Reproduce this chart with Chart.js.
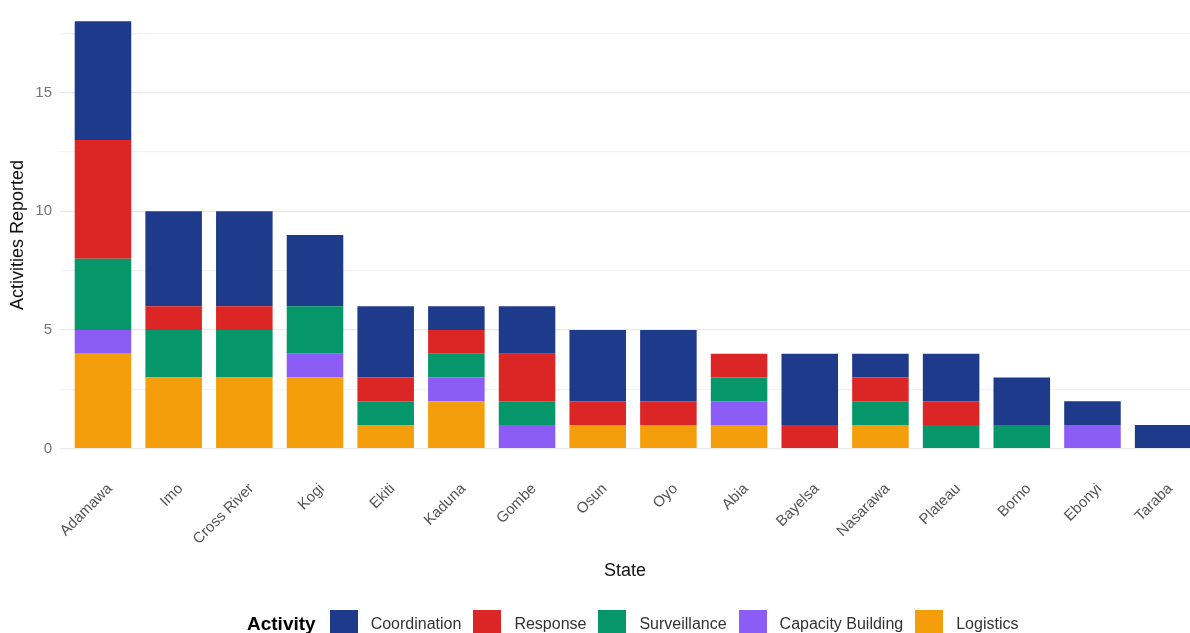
<!DOCTYPE html>
<html>
<head>
<meta charset="utf-8">
<script src="https://cdn.jsdelivr.net/npm/chart.js@4/dist/chart.umd.min.js"></script>
<style>
  html, body { margin: 0; padding: 0; background: #fff; overflow: hidden; }
  #wrap { position: relative; width: 1190px; height: 633px; }
  #legenda {
    position: absolute; left: 247px; top: 610px; height: 28px;
    display: flex; align-items: center;
    font-family: "Liberation Sans", Arial, sans-serif; font-size: 16px; color: #333;
  }
  #legenda .titulo { font-weight: bold; font-size: 19px; color: #000; margin-right: 14px; }
  #legenda .caixa { width: 28px; height: 28px; margin-right: 13px; }
  #legenda .nome { margin-right: 12px; }
</style>
</head>
<body>
<div id="wrap">
  <canvas id="grafico" width="1190" height="633"></canvas>
  <div id="legenda"></div>
</div>
<script>
// Atividades reportadas por estado
const estados = ['Adamawa', 'Imo', 'Cross River', 'Kogi', 'Ekiti', 'Kaduna', 'Gombe', 'Osun',
                 'Oyo', 'Abia', 'Bayelsa', 'Nasarawa', 'Plateau', 'Borno', 'Ebonyi', 'Taraba'];

// da base para o topo da pilha
const logistics      = [4, 3, 3, 3, 1, 2, 0, 1, 1, 1, 0, 1, 0, 0, 0, 0];
const capacity       = [1, 0, 0, 1, 0, 1, 1, 0, 0, 1, 0, 0, 0, 0, 1, 0];
const surveillance   = [3, 2, 2, 2, 1, 1, 1, 0, 0, 1, 0, 1, 1, 1, 0, 0];
const response       = [5, 1, 1, 0, 1, 1, 2, 1, 1, 1, 1, 1, 1, 0, 0, 0];
const coordination   = [5, 4, 4, 3, 3, 1, 2, 3, 3, 0, 3, 1, 2, 2, 1, 1];

const yTicks = [0, 2.5, 5, 7.5, 10, 12.5, 15, 17.5];

const series = [
    { label: 'Logistics', data: logistics, cor: '#f59e0b' },
    { label: 'Capacity Building', data: capacity, cor: '#8b5cf6' },
    { label: 'Surveillance', data: surveillance, cor: '#059669' },
    { label: 'Response', data: response, cor: '#dc2626' },
    { label: 'Coordination', data: coordination, cor: '#1e3a8a' }
];

const fonte = '"Liberation Sans", Arial, sans-serif';

// zera o espaço extra que os rótulos pedem nas bordas
function semPadding(scale) {
    scale.paddingTop = 0;
    scale.paddingBottom = 0;
    scale.paddingLeft = 0;
    scale.paddingRight = 0;
}

const ctx = document.getElementById('grafico').getContext('2d');
new Chart(ctx, {
    type: 'bar',
    data: {
        labels: estados.map((_, i) => i),
        datasets: series.map(s => ({
            label: s.label,
            data: s.data,
            backgroundColor: s.cor,
            borderWidth: 0,
            categoryPercentage: 1,
            barPercentage: 0.8
        }))
    },
    options: {
        responsive: false,
        animation: false,
        layout: { padding: { top: 0, right: 0, bottom: 33, left: 0 } },
        plugins: {
            legend: { display: false },
            tooltip: { enabled: false }
        },
        scales: {
            x: {
                type: 'linear',
                stacked: true,
                offset: false,
                min: -0.608,
                max: 15.38,
                afterBuildTicks: scale => {
                    scale.ticks = estados.map((_, i) => ({ value: i }));
                },
                afterFit: scale => { scale.height = 130; semPadding(scale); },
                grid: { display: false },
                border: { display: false },
                ticks: {
                    autoSkip: false,
                    minRotation: 45,
                    maxRotation: 45,
                    padding: 2,
                    labelOffset: 7,
                    color: '#555',
                    font: { family: fonte, size: 15 },
                    callback: v => estados[v]
                },
                title: {
                    display: true,
                    text: 'State',
                    color: '#111',
                    font: { family: fonte, size: 18 },
                    padding: { top: 0, bottom: 18 }
                }
            },
            y: {
                stacked: true,
                min: -0.9,
                max: 18.9,
                afterBuildTicks: scale => {
                    scale.ticks = yTicks.map(v => ({ value: v }));
                },
                afterFit: scale => { scale.width = 60; semPadding(scale); },
                grid: {
                    drawTicks: false,
                    lineWidth: 1.2,
                    color: c => (c.tick && c.tick.value % 5 === 0) ? '#e9e9e9' : '#f3f3f3'
                },
                border: { display: false },
                ticks: {
                    padding: 8,
                    color: '#777',
                    font: { family: fonte, size: 15 },
                    callback: v => (v % 5 === 0 ? v : '')
                },
                title: {
                    display: true,
                    text: 'Activities Reported',
                    color: '#111',
                    font: { family: fonte, size: 18 },
                    padding: { top: 7, bottom: 0 }
                }
            }
        }
    }
});

// Legenda (ordem inversa da pilha)
const legenda = document.getElementById('legenda');
legenda.innerHTML = '<span class="titulo">Activity</span>';
series.slice().reverse().forEach(s => {
    legenda.innerHTML += `<span class="caixa" style="background:${s.cor}"></span><span class="nome">${s.label}</span>`;
});
</script>
</body>
</html>
